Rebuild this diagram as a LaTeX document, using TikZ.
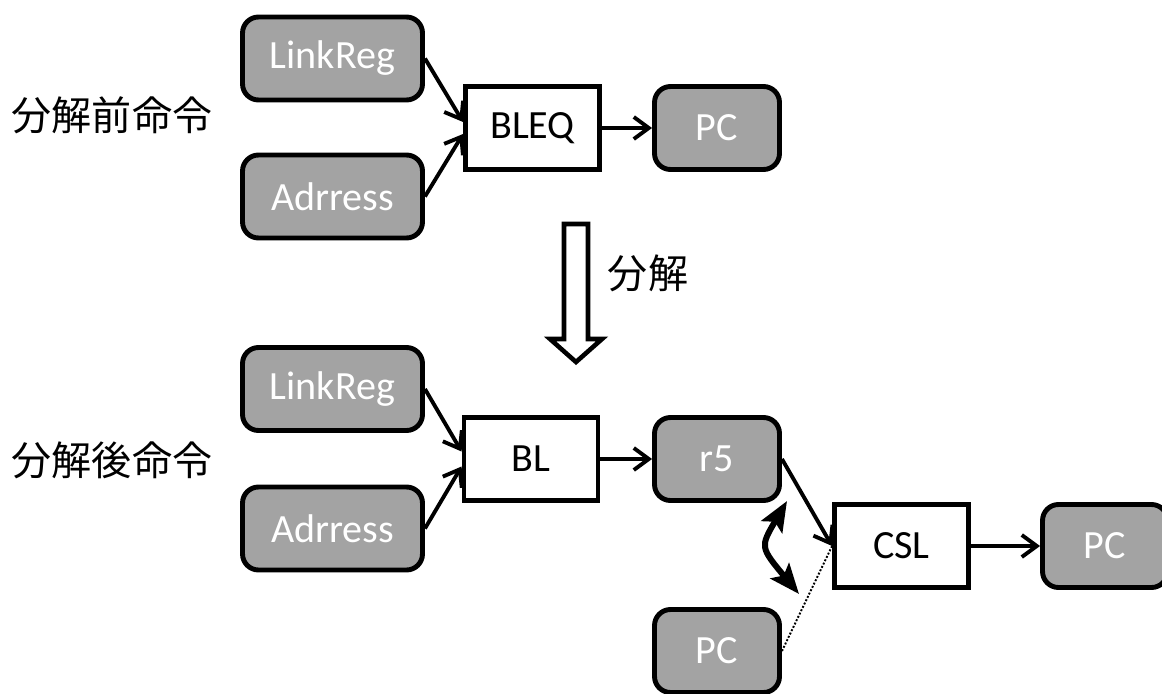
\documentclass[tikz,border=0pt]{standalone}
\usepackage{fontspec}
\setmainfont{Carlito}
\newfontfamily\jpfont{Noto Sans CJK JP}
\usetikzlibrary{arrows.meta}
\definecolor{boxgray}{RGB}{163,163,163}
\begin{document}
\begin{tikzpicture}[x=0.02cm,y=-0.02cm,
  every node/.style={font=\fontsize{22.8}{27}\selectfont, inner sep=0pt},
  reg/.style={draw=black, line width=2.8pt, fill=boxgray, rounded corners=0.32cm, text=white, minimum height=1.66cm},
  wreg/.style={reg, minimum width=3.6cm},
  sreg/.style={reg, minimum width=2.5cm},
  op/.style={draw=black, line width=2.8pt, fill=white, minimum height=1.66cm, minimum width=2.68cm},
  conn/.style={line width=2.2pt, -{Straight Barb[length=0.3cm,width=0.44cm]}},
  swaparrow/.style={line width=3.4pt, {Stealth[length=0.6cm,width=0.48cm,inset=0.12cm]}-{Stealth[length=0.6cm,width=0.48cm,inset=0.12cm]}},
  lbl/.style={font=\jpfont\fontsize{22.8}{27}\selectfont}
]
\useasboundingbox (0,0) rectangle (1162,693);
\clip (0,0) rectangle (1162,693);

% top row
\node[lbl] (before) at (112,115) {分解前命令};
\node[wreg] (lr1) at (332.5,58.5) {LinkReg};
\node[wreg] (ad1) at (332.5,196.5) {Adrress};
\node[op] (bleq) at (532.5,128) {BLEQ};
\node[sreg] (pc1) at (717,128) {PC};
\draw[conn] (lr1.east) -- ([yshift=0.12cm]bleq.west);
\draw[conn] (ad1.east) -- ([yshift=-0.12cm]bleq.west);
\draw[conn] (bleq) -- (pc1);

% decomposition arrow
\draw[line width=2.6pt, fill=white] (564,224) -- (588,224) -- (588,339) -- (602,339) -- (576,362) -- (550,339) -- (564,339) -- cycle;
\node[lbl] (dec) at (648,273) {分解};

% bottom row
\node[lbl] (after) at (112,460) {分解後命令};
\node[wreg] (lr2) at (332.5,389) {LinkReg};
\node[wreg] (ad2) at (332.5,528.5) {Adrress};
\node[op] (bl) at (531,459) {BL};
\node[sreg] (r5) at (717,459) {r5};
\node[op] (csl) at (901.5,546) {CSL};
\node[sreg] (pc2) at (1105,546) {PC};
\node[sreg] (pcb) at (717,651) {PC};
\draw[conn] (lr2.east) -- ([yshift=0.15cm]bl.west);
\draw[conn] (ad2.east) -- ([yshift=-0.15cm]bl.west);
\draw[conn] (bl) -- (r5);
\draw[conn] (r5.east) -- (csl.west);
\draw[conn] (csl) -- (pc2);
\draw[line width=1.1pt, densely dotted] (pcb.east) -- (csl.west);

% swap arrow
\coordinate (swapa) at (787,501);
\coordinate (swapb) at (799,594);
\draw[swaparrow] (swapa) .. controls (760,547) .. (swapb);
\end{tikzpicture}
\end{document}
